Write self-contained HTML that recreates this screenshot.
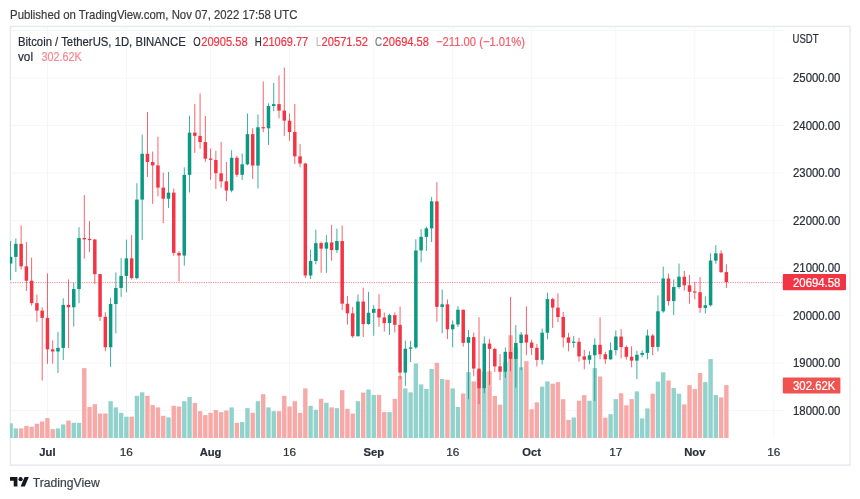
<!DOCTYPE html>
<html><head><meta charset="utf-8"><title>BTCUSDT</title>
<style>html,body{margin:0;padding:0;background:#fff}body{width:860px;height:499px;overflow:hidden}svg{display:block}text{font-family:"Liberation Sans",sans-serif}</style>
</head><body>
<svg width="860" height="499" viewBox="0 0 860 499">
<rect width="860" height="499" fill="#fff"/>
<defs><filter id="bl" x="0" y="0" width="860" height="499" filterUnits="userSpaceOnUse"><feGaussianBlur stdDeviation="0.4"/></filter></defs>
<g filter="url(#bl)">
<defs><clipPath id="pane"><rect x="9.9" y="26.5" width="773.1" height="412"/></clipPath></defs>
<g stroke="#f5f6f8" stroke-width="1" shape-rendering="auto">
<line x1="10.5" y1="30.60" x2="783" y2="30.60"/>
<line x1="10.5" y1="78.10" x2="783" y2="78.10"/>
<line x1="10.5" y1="125.60" x2="783" y2="125.60"/>
<line x1="10.5" y1="173.10" x2="783" y2="173.10"/>
<line x1="10.5" y1="220.60" x2="783" y2="220.60"/>
<line x1="10.5" y1="268.10" x2="783" y2="268.10"/>
<line x1="10.5" y1="315.60" x2="783" y2="315.60"/>
<line x1="10.5" y1="363.10" x2="783" y2="363.10"/>
<line x1="10.5" y1="410.60" x2="783" y2="410.60"/>
<line x1="47.44" y1="26.5" x2="47.44" y2="438"/>
<line x1="126.39" y1="26.5" x2="126.39" y2="438"/>
<line x1="210.59" y1="26.5" x2="210.59" y2="438"/>
<line x1="289.54" y1="26.5" x2="289.54" y2="438"/>
<line x1="373.75" y1="26.5" x2="373.75" y2="438"/>
<line x1="452.69" y1="26.5" x2="452.69" y2="438"/>
<line x1="531.64" y1="26.5" x2="531.64" y2="438"/>
<line x1="615.85" y1="26.5" x2="615.85" y2="438"/>
<line x1="694.79" y1="26.5" x2="694.79" y2="438"/>
<line x1="773.74" y1="26.5" x2="773.74" y2="438"/>
</g>
<rect x="10.4" y="26.4" width="839.6" height="438.8" fill="none" stroke="#e8eaf0" stroke-width="1.5"/>
<g clip-path="url(#pane)">
<rect x="8.40" y="423.30" width="4.40" height="14.70" fill="#92d2cc"/>
<rect x="13.66" y="428.40" width="4.40" height="9.60" fill="#92d2cc"/>
<rect x="18.93" y="428.40" width="4.40" height="9.60" fill="#f7a9a7"/>
<rect x="24.19" y="426.00" width="4.40" height="12.00" fill="#f7a9a7"/>
<rect x="29.45" y="426.70" width="4.40" height="11.30" fill="#f7a9a7"/>
<rect x="34.71" y="423.70" width="4.40" height="14.30" fill="#f7a9a7"/>
<rect x="39.98" y="421.40" width="4.40" height="16.60" fill="#f7a9a7"/>
<rect x="45.24" y="418.10" width="4.40" height="19.90" fill="#f7a9a7"/>
<rect x="50.50" y="429.10" width="4.40" height="8.90" fill="#f7a9a7"/>
<rect x="55.77" y="428.40" width="4.40" height="9.60" fill="#92d2cc"/>
<rect x="61.03" y="424.40" width="4.40" height="13.60" fill="#92d2cc"/>
<rect x="66.29" y="420.50" width="4.40" height="17.50" fill="#f7a9a7"/>
<rect x="71.56" y="422.80" width="4.40" height="15.20" fill="#92d2cc"/>
<rect x="76.82" y="422.80" width="4.40" height="15.20" fill="#92d2cc"/>
<rect x="82.08" y="368.10" width="4.40" height="69.90" fill="#f7a9a7"/>
<rect x="87.34" y="407.00" width="4.40" height="31.00" fill="#f7a9a7"/>
<rect x="92.61" y="404.20" width="4.40" height="33.80" fill="#f7a9a7"/>
<rect x="97.87" y="413.50" width="4.40" height="24.50" fill="#f7a9a7"/>
<rect x="103.13" y="413.50" width="4.40" height="24.50" fill="#f7a9a7"/>
<rect x="108.40" y="401.20" width="4.40" height="36.80" fill="#92d2cc"/>
<rect x="113.66" y="407.40" width="4.40" height="30.60" fill="#92d2cc"/>
<rect x="118.92" y="412.80" width="4.40" height="25.20" fill="#92d2cc"/>
<rect x="124.19" y="416.70" width="4.40" height="21.30" fill="#92d2cc"/>
<rect x="129.45" y="416.70" width="4.40" height="21.30" fill="#f7a9a7"/>
<rect x="134.71" y="395.80" width="4.40" height="42.20" fill="#92d2cc"/>
<rect x="139.97" y="392.30" width="4.40" height="45.70" fill="#92d2cc"/>
<rect x="145.24" y="395.80" width="4.40" height="42.20" fill="#f7a9a7"/>
<rect x="150.50" y="405.10" width="4.40" height="32.90" fill="#f7a9a7"/>
<rect x="155.76" y="407.40" width="4.40" height="30.60" fill="#f7a9a7"/>
<rect x="161.03" y="415.80" width="4.40" height="22.20" fill="#f7a9a7"/>
<rect x="166.29" y="417.40" width="4.40" height="20.60" fill="#92d2cc"/>
<rect x="171.55" y="405.80" width="4.40" height="32.20" fill="#f7a9a7"/>
<rect x="176.82" y="406.50" width="4.40" height="31.50" fill="#f7a9a7"/>
<rect x="182.08" y="401.20" width="4.40" height="36.80" fill="#92d2cc"/>
<rect x="187.34" y="397.00" width="4.40" height="41.00" fill="#92d2cc"/>
<rect x="192.60" y="403.00" width="4.40" height="35.00" fill="#f7a9a7"/>
<rect x="197.87" y="411.20" width="4.40" height="26.80" fill="#f7a9a7"/>
<rect x="203.13" y="415.10" width="4.40" height="22.90" fill="#f7a9a7"/>
<rect x="208.39" y="412.80" width="4.40" height="25.20" fill="#f7a9a7"/>
<rect x="213.66" y="410.00" width="4.40" height="28.00" fill="#f7a9a7"/>
<rect x="218.92" y="412.10" width="4.40" height="25.90" fill="#f7a9a7"/>
<rect x="224.18" y="410.50" width="4.40" height="27.50" fill="#f7a9a7"/>
<rect x="229.45" y="407.40" width="4.40" height="30.60" fill="#92d2cc"/>
<rect x="234.71" y="422.80" width="4.40" height="15.20" fill="#f7a9a7"/>
<rect x="239.97" y="422.10" width="4.40" height="15.90" fill="#92d2cc"/>
<rect x="245.24" y="408.10" width="4.40" height="29.90" fill="#92d2cc"/>
<rect x="250.50" y="412.80" width="4.40" height="25.20" fill="#f7a9a7"/>
<rect x="255.76" y="401.20" width="4.40" height="36.80" fill="#92d2cc"/>
<rect x="261.02" y="394.20" width="4.40" height="43.80" fill="#f7a9a7"/>
<rect x="266.29" y="407.40" width="4.40" height="30.60" fill="#92d2cc"/>
<rect x="271.55" y="411.20" width="4.40" height="26.80" fill="#92d2cc"/>
<rect x="276.81" y="411.20" width="4.40" height="26.80" fill="#f7a9a7"/>
<rect x="282.08" y="395.80" width="4.40" height="42.20" fill="#f7a9a7"/>
<rect x="287.34" y="406.50" width="4.40" height="31.50" fill="#f7a9a7"/>
<rect x="292.60" y="401.20" width="4.40" height="36.80" fill="#f7a9a7"/>
<rect x="297.87" y="412.80" width="4.40" height="25.20" fill="#f7a9a7"/>
<rect x="303.13" y="388.40" width="4.40" height="49.60" fill="#f7a9a7"/>
<rect x="308.39" y="405.80" width="4.40" height="32.20" fill="#92d2cc"/>
<rect x="313.65" y="409.80" width="4.40" height="28.20" fill="#92d2cc"/>
<rect x="318.92" y="398.80" width="4.40" height="39.20" fill="#f7a9a7"/>
<rect x="324.18" y="402.80" width="4.40" height="35.20" fill="#92d2cc"/>
<rect x="329.44" y="407.40" width="4.40" height="30.60" fill="#f7a9a7"/>
<rect x="334.71" y="408.10" width="4.40" height="29.90" fill="#92d2cc"/>
<rect x="339.97" y="390.20" width="4.40" height="47.80" fill="#f7a9a7"/>
<rect x="345.23" y="408.80" width="4.40" height="29.20" fill="#f7a9a7"/>
<rect x="350.50" y="413.50" width="4.40" height="24.50" fill="#f7a9a7"/>
<rect x="355.76" y="401.20" width="4.40" height="36.80" fill="#92d2cc"/>
<rect x="361.02" y="392.60" width="4.40" height="45.40" fill="#f7a9a7"/>
<rect x="366.28" y="389.50" width="4.40" height="48.50" fill="#92d2cc"/>
<rect x="371.55" y="394.90" width="4.40" height="43.10" fill="#92d2cc"/>
<rect x="376.81" y="394.90" width="4.40" height="43.10" fill="#f7a9a7"/>
<rect x="382.07" y="412.10" width="4.40" height="25.90" fill="#f7a9a7"/>
<rect x="387.34" y="412.10" width="4.40" height="25.90" fill="#92d2cc"/>
<rect x="392.60" y="398.80" width="4.40" height="39.20" fill="#f7a9a7"/>
<rect x="397.86" y="376.00" width="4.40" height="62.00" fill="#f7a9a7"/>
<rect x="403.12" y="388.40" width="4.40" height="49.60" fill="#92d2cc"/>
<rect x="408.39" y="392.30" width="4.40" height="45.70" fill="#92d2cc"/>
<rect x="413.65" y="363.50" width="4.40" height="74.50" fill="#92d2cc"/>
<rect x="418.91" y="384.40" width="4.40" height="53.60" fill="#92d2cc"/>
<rect x="424.18" y="389.00" width="4.40" height="49.00" fill="#92d2cc"/>
<rect x="429.44" y="369.00" width="4.40" height="69.00" fill="#92d2cc"/>
<rect x="434.70" y="362.80" width="4.40" height="75.20" fill="#f7a9a7"/>
<rect x="439.97" y="379.00" width="4.40" height="59.00" fill="#92d2cc"/>
<rect x="445.23" y="379.80" width="4.40" height="58.20" fill="#f7a9a7"/>
<rect x="450.49" y="388.40" width="4.40" height="49.60" fill="#92d2cc"/>
<rect x="455.76" y="407.00" width="4.40" height="31.00" fill="#92d2cc"/>
<rect x="461.02" y="393.50" width="4.40" height="44.50" fill="#f7a9a7"/>
<rect x="466.28" y="372.10" width="4.40" height="65.90" fill="#92d2cc"/>
<rect x="471.54" y="381.40" width="4.40" height="56.60" fill="#f7a9a7"/>
<rect x="476.81" y="370.50" width="4.40" height="67.50" fill="#f7a9a7"/>
<rect x="482.07" y="371.50" width="4.40" height="66.50" fill="#92d2cc"/>
<rect x="487.33" y="371.30" width="4.40" height="66.70" fill="#f7a9a7"/>
<rect x="492.60" y="396.00" width="4.40" height="42.00" fill="#f7a9a7"/>
<rect x="497.86" y="404.70" width="4.40" height="33.30" fill="#f7a9a7"/>
<rect x="503.12" y="362.30" width="4.40" height="75.70" fill="#92d2cc"/>
<rect x="508.39" y="335.20" width="4.40" height="102.80" fill="#f7a9a7"/>
<rect x="513.65" y="347.50" width="4.40" height="90.50" fill="#92d2cc"/>
<rect x="518.91" y="367.30" width="4.40" height="70.70" fill="#92d2cc"/>
<rect x="524.17" y="361.20" width="4.40" height="76.80" fill="#f7a9a7"/>
<rect x="529.44" y="409.30" width="4.40" height="28.70" fill="#f7a9a7"/>
<rect x="534.70" y="402.30" width="4.40" height="35.70" fill="#f7a9a7"/>
<rect x="539.96" y="386.70" width="4.40" height="51.30" fill="#92d2cc"/>
<rect x="545.23" y="381.40" width="4.40" height="56.60" fill="#92d2cc"/>
<rect x="550.49" y="383.70" width="4.40" height="54.30" fill="#f7a9a7"/>
<rect x="555.75" y="382.10" width="4.40" height="55.90" fill="#f7a9a7"/>
<rect x="561.01" y="399.20" width="4.40" height="38.80" fill="#f7a9a7"/>
<rect x="566.28" y="419.90" width="4.40" height="18.10" fill="#f7a9a7"/>
<rect x="571.54" y="417.50" width="4.40" height="20.50" fill="#92d2cc"/>
<rect x="576.80" y="400.70" width="4.40" height="37.30" fill="#f7a9a7"/>
<rect x="582.07" y="395.10" width="4.40" height="42.90" fill="#f7a9a7"/>
<rect x="587.33" y="400.70" width="4.40" height="37.30" fill="#92d2cc"/>
<rect x="592.59" y="368.10" width="4.40" height="69.90" fill="#92d2cc"/>
<rect x="597.86" y="376.50" width="4.40" height="61.50" fill="#f7a9a7"/>
<rect x="603.12" y="417.70" width="4.40" height="20.30" fill="#f7a9a7"/>
<rect x="608.38" y="414.20" width="4.40" height="23.80" fill="#92d2cc"/>
<rect x="613.64" y="399.10" width="4.40" height="38.90" fill="#92d2cc"/>
<rect x="618.91" y="393.30" width="4.40" height="44.70" fill="#f7a9a7"/>
<rect x="624.17" y="405.30" width="4.40" height="32.70" fill="#f7a9a7"/>
<rect x="629.43" y="399.10" width="4.40" height="38.90" fill="#f7a9a7"/>
<rect x="634.70" y="391.40" width="4.40" height="46.60" fill="#92d2cc"/>
<rect x="639.96" y="418.40" width="4.40" height="19.60" fill="#92d2cc"/>
<rect x="645.22" y="408.40" width="4.40" height="29.60" fill="#92d2cc"/>
<rect x="650.49" y="393.70" width="4.40" height="44.30" fill="#f7a9a7"/>
<rect x="655.75" y="381.60" width="4.40" height="56.40" fill="#92d2cc"/>
<rect x="661.01" y="372.30" width="4.40" height="65.70" fill="#92d2cc"/>
<rect x="666.27" y="380.50" width="4.40" height="57.50" fill="#f7a9a7"/>
<rect x="671.54" y="388.10" width="4.40" height="49.90" fill="#92d2cc"/>
<rect x="676.80" y="393.70" width="4.40" height="44.30" fill="#92d2cc"/>
<rect x="682.06" y="404.40" width="4.40" height="33.60" fill="#f7a9a7"/>
<rect x="687.33" y="385.10" width="4.40" height="52.90" fill="#f7a9a7"/>
<rect x="692.59" y="389.10" width="4.40" height="48.90" fill="#f7a9a7"/>
<rect x="697.85" y="373.00" width="4.40" height="65.00" fill="#f7a9a7"/>
<rect x="703.12" y="382.10" width="4.40" height="55.90" fill="#92d2cc"/>
<rect x="708.38" y="359.10" width="4.40" height="78.90" fill="#92d2cc"/>
<rect x="713.64" y="395.10" width="4.40" height="42.90" fill="#92d2cc"/>
<rect x="718.90" y="397.40" width="4.40" height="40.60" fill="#f7a9a7"/>
<rect x="724.17" y="385.10" width="4.40" height="52.90" fill="#f7a9a7"/>
</g>
<line x1="10.5" y1="282.61" x2="783" y2="282.61" stroke="#f23645" stroke-width="1" stroke-dasharray="1.15 1.15" opacity="0.62"/>
<g clip-path="url(#pane)">
<rect x="10.15" y="241.09" width="0.90" height="39.04" fill="#089981" opacity="0.85"/>
<rect x="8.85" y="256.87" width="3.50" height="6.70" fill="#089981"/>
<rect x="15.41" y="238.44" width="0.90" height="33.63" fill="#089981" opacity="0.85"/>
<rect x="14.11" y="243.85" width="3.50" height="13.02" fill="#089981"/>
<rect x="20.68" y="225.42" width="0.90" height="43.84" fill="#f23645" opacity="0.85"/>
<rect x="19.38" y="243.85" width="3.50" height="22.47" fill="#f23645"/>
<rect x="25.94" y="242.00" width="0.90" height="48.88" fill="#f23645" opacity="0.85"/>
<rect x="24.64" y="266.32" width="3.50" height="14.44" fill="#f23645"/>
<rect x="31.20" y="257.53" width="0.90" height="48.07" fill="#f23645" opacity="0.85"/>
<rect x="29.90" y="280.76" width="3.50" height="22.37" fill="#f23645"/>
<rect x="36.46" y="294.58" width="0.90" height="27.45" fill="#f23645" opacity="0.85"/>
<rect x="35.16" y="303.13" width="3.50" height="7.50" fill="#f23645"/>
<rect x="41.73" y="307.26" width="0.90" height="73.39" fill="#f23645" opacity="0.85"/>
<rect x="40.43" y="310.63" width="3.50" height="7.22" fill="#f23645"/>
<rect x="46.99" y="273.35" width="0.90" height="90.44" fill="#f23645" opacity="0.85"/>
<rect x="45.69" y="317.86" width="3.50" height="31.49" fill="#f23645"/>
<rect x="52.25" y="340.42" width="0.90" height="23.27" fill="#f23645" opacity="0.85"/>
<rect x="50.95" y="349.35" width="3.50" height="2.14" fill="#f23645"/>
<rect x="57.52" y="331.87" width="0.90" height="41.14" fill="#089981" opacity="0.85"/>
<rect x="56.22" y="347.92" width="3.50" height="3.56" fill="#089981"/>
<rect x="62.78" y="298.28" width="0.90" height="61.70" fill="#089981" opacity="0.85"/>
<rect x="61.48" y="304.89" width="3.50" height="43.04" fill="#089981"/>
<rect x="68.04" y="279.48" width="0.90" height="68.68" fill="#f23645" opacity="0.85"/>
<rect x="66.74" y="304.89" width="3.50" height="2.38" fill="#f23645"/>
<rect x="73.31" y="283.04" width="0.90" height="43.41" fill="#089981" opacity="0.85"/>
<rect x="72.01" y="289.07" width="3.50" height="18.19" fill="#089981"/>
<rect x="78.57" y="227.22" width="0.90" height="75.95" fill="#089981" opacity="0.85"/>
<rect x="77.27" y="237.96" width="3.50" height="51.11" fill="#089981"/>
<rect x="83.83" y="195.07" width="0.90" height="63.56" fill="#f23645" opacity="0.85"/>
<rect x="82.53" y="237.96" width="3.50" height="1.42" fill="#f23645"/>
<rect x="89.09" y="221.05" width="0.90" height="31.26" fill="#f23645" opacity="0.85"/>
<rect x="87.79" y="238.86" width="3.50" height="1.20" fill="#f23645"/>
<rect x="94.36" y="238.77" width="0.90" height="45.22" fill="#f23645" opacity="0.85"/>
<rect x="93.06" y="239.53" width="3.50" height="34.63" fill="#f23645"/>
<rect x="99.62" y="273.87" width="0.90" height="47.17" fill="#f23645" opacity="0.85"/>
<rect x="98.32" y="274.15" width="3.50" height="42.70" fill="#f23645"/>
<rect x="104.88" y="312.30" width="0.90" height="38.90" fill="#f23645" opacity="0.85"/>
<rect x="103.58" y="316.86" width="3.50" height="30.40" fill="#f23645"/>
<rect x="110.15" y="297.72" width="0.90" height="69.16" fill="#089981" opacity="0.85"/>
<rect x="108.85" y="303.99" width="3.50" height="43.27" fill="#089981"/>
<rect x="115.41" y="272.35" width="0.90" height="60.99" fill="#089981" opacity="0.85"/>
<rect x="114.11" y="287.93" width="3.50" height="16.06" fill="#089981"/>
<rect x="120.67" y="258.10" width="0.90" height="38.85" fill="#089981" opacity="0.85"/>
<rect x="119.37" y="275.91" width="3.50" height="12.02" fill="#089981"/>
<rect x="125.94" y="239.67" width="0.90" height="52.72" fill="#089981" opacity="0.85"/>
<rect x="124.64" y="258.34" width="3.50" height="17.58" fill="#089981"/>
<rect x="131.20" y="235.11" width="0.90" height="44.37" fill="#f23645" opacity="0.85"/>
<rect x="129.90" y="258.34" width="3.50" height="19.76" fill="#f23645"/>
<rect x="136.46" y="183.19" width="0.90" height="96.19" fill="#089981" opacity="0.85"/>
<rect x="135.16" y="199.58" width="3.50" height="78.52" fill="#089981"/>
<rect x="141.72" y="134.60" width="0.90" height="105.50" fill="#089981" opacity="0.85"/>
<rect x="140.42" y="153.79" width="3.50" height="45.79" fill="#089981"/>
<rect x="146.99" y="111.99" width="0.90" height="65.08" fill="#f23645" opacity="0.85"/>
<rect x="145.69" y="153.79" width="3.50" height="8.22" fill="#f23645"/>
<rect x="152.25" y="151.60" width="0.90" height="52.30" fill="#f23645" opacity="0.85"/>
<rect x="150.95" y="162.01" width="3.50" height="3.37" fill="#f23645"/>
<rect x="157.51" y="136.69" width="0.90" height="59.66" fill="#f23645" opacity="0.85"/>
<rect x="156.21" y="165.38" width="3.50" height="22.23" fill="#f23645"/>
<rect x="162.78" y="172.60" width="0.90" height="50.63" fill="#f23645" opacity="0.85"/>
<rect x="161.48" y="187.61" width="3.50" height="11.07" fill="#f23645"/>
<rect x="168.04" y="171.94" width="0.90" height="35.96" fill="#089981" opacity="0.85"/>
<rect x="166.74" y="192.60" width="3.50" height="6.08" fill="#089981"/>
<rect x="173.30" y="188.46" width="0.90" height="67.26" fill="#f23645" opacity="0.85"/>
<rect x="172.00" y="192.60" width="3.50" height="60.28" fill="#f23645"/>
<rect x="178.57" y="251.12" width="0.90" height="30.45" fill="#f23645" opacity="0.85"/>
<rect x="177.27" y="252.88" width="3.50" height="2.66" fill="#f23645"/>
<rect x="183.83" y="167.28" width="0.90" height="98.33" fill="#089981" opacity="0.85"/>
<rect x="182.53" y="174.88" width="3.50" height="80.65" fill="#089981"/>
<rect x="189.09" y="115.65" width="0.90" height="76.81" fill="#089981" opacity="0.85"/>
<rect x="187.79" y="132.60" width="3.50" height="42.28" fill="#089981"/>
<rect x="194.35" y="104.10" width="0.90" height="48.83" fill="#f23645" opacity="0.85"/>
<rect x="193.05" y="132.60" width="3.50" height="3.28" fill="#f23645"/>
<rect x="199.62" y="93.37" width="0.90" height="55.39" fill="#f23645" opacity="0.85"/>
<rect x="198.32" y="135.88" width="3.50" height="6.18" fill="#f23645"/>
<rect x="204.88" y="115.88" width="0.90" height="45.93" fill="#f23645" opacity="0.85"/>
<rect x="203.58" y="142.06" width="3.50" height="16.62" fill="#f23645"/>
<rect x="210.14" y="148.42" width="0.90" height="31.30" fill="#f23645" opacity="0.85"/>
<rect x="208.84" y="158.54" width="3.50" height="1.33" fill="#f23645"/>
<rect x="215.41" y="150.80" width="0.90" height="38.24" fill="#f23645" opacity="0.85"/>
<rect x="214.11" y="159.96" width="3.50" height="13.25" fill="#f23645"/>
<rect x="220.67" y="141.87" width="0.90" height="45.88" fill="#f23645" opacity="0.85"/>
<rect x="219.37" y="173.31" width="3.50" height="8.03" fill="#f23645"/>
<rect x="225.93" y="162.01" width="0.90" height="39.09" fill="#f23645" opacity="0.85"/>
<rect x="224.63" y="181.34" width="3.50" height="9.22" fill="#f23645"/>
<rect x="231.20" y="150.18" width="0.90" height="42.08" fill="#089981" opacity="0.85"/>
<rect x="229.90" y="157.78" width="3.50" height="32.78" fill="#089981"/>
<rect x="236.46" y="155.78" width="0.90" height="21.14" fill="#f23645" opacity="0.85"/>
<rect x="235.16" y="157.73" width="3.50" height="17.05" fill="#f23645"/>
<rect x="241.72" y="153.50" width="0.90" height="26.50" fill="#089981" opacity="0.85"/>
<rect x="240.42" y="164.33" width="3.50" height="10.45" fill="#089981"/>
<rect x="246.99" y="113.46" width="0.90" height="51.82" fill="#089981" opacity="0.85"/>
<rect x="245.69" y="134.12" width="3.50" height="30.21" fill="#089981"/>
<rect x="252.25" y="128.28" width="0.90" height="50.73" fill="#f23645" opacity="0.85"/>
<rect x="250.95" y="134.12" width="3.50" height="31.40" fill="#f23645"/>
<rect x="257.51" y="114.36" width="0.90" height="74.20" fill="#089981" opacity="0.85"/>
<rect x="256.21" y="127.28" width="3.50" height="38.28" fill="#089981"/>
<rect x="262.77" y="81.49" width="0.90" height="50.64" fill="#f23645" opacity="0.85"/>
<rect x="261.47" y="127.16" width="3.50" height="1.20" fill="#f23645"/>
<rect x="268.04" y="103.44" width="0.90" height="41.47" fill="#089981" opacity="0.85"/>
<rect x="266.74" y="105.96" width="3.50" height="22.33" fill="#089981"/>
<rect x="273.30" y="82.92" width="0.90" height="28.36" fill="#089981" opacity="0.85"/>
<rect x="272.00" y="104.15" width="3.50" height="1.85" fill="#089981"/>
<rect x="278.56" y="75.37" width="0.90" height="42.89" fill="#f23645" opacity="0.85"/>
<rect x="277.26" y="104.06" width="3.50" height="6.56" fill="#f23645"/>
<rect x="283.83" y="67.58" width="0.90" height="68.31" fill="#f23645" opacity="0.85"/>
<rect x="282.53" y="110.61" width="3.50" height="10.02" fill="#f23645"/>
<rect x="289.09" y="113.37" width="0.90" height="27.36" fill="#f23645" opacity="0.85"/>
<rect x="287.79" y="120.68" width="3.50" height="11.35" fill="#f23645"/>
<rect x="294.35" y="103.91" width="0.90" height="60.14" fill="#f23645" opacity="0.85"/>
<rect x="293.05" y="131.94" width="3.50" height="24.41" fill="#f23645"/>
<rect x="299.62" y="144.10" width="0.90" height="23.23" fill="#f23645" opacity="0.85"/>
<rect x="298.31" y="156.35" width="3.50" height="7.17" fill="#f23645"/>
<rect x="304.88" y="162.72" width="0.90" height="115.19" fill="#f23645" opacity="0.85"/>
<rect x="303.58" y="163.53" width="3.50" height="111.96" fill="#f23645"/>
<rect x="310.14" y="249.45" width="0.90" height="29.50" fill="#089981" opacity="0.85"/>
<rect x="308.84" y="260.95" width="3.50" height="14.54" fill="#089981"/>
<rect x="315.40" y="229.60" width="0.90" height="34.72" fill="#089981" opacity="0.85"/>
<rect x="314.10" y="243.14" width="3.50" height="17.81" fill="#089981"/>
<rect x="320.67" y="241.57" width="0.90" height="31.25" fill="#f23645" opacity="0.85"/>
<rect x="319.37" y="243.09" width="3.50" height="5.56" fill="#f23645"/>
<rect x="325.93" y="235.11" width="0.90" height="37.72" fill="#089981" opacity="0.85"/>
<rect x="324.63" y="242.47" width="3.50" height="6.13" fill="#089981"/>
<rect x="331.19" y="224.85" width="0.90" height="35.86" fill="#f23645" opacity="0.85"/>
<rect x="329.89" y="242.47" width="3.50" height="7.65" fill="#f23645"/>
<rect x="336.46" y="228.70" width="0.90" height="24.18" fill="#089981" opacity="0.85"/>
<rect x="335.16" y="241.05" width="3.50" height="9.07" fill="#089981"/>
<rect x="341.72" y="225.51" width="0.90" height="84.50" fill="#f23645" opacity="0.85"/>
<rect x="340.42" y="241.05" width="3.50" height="62.61" fill="#f23645"/>
<rect x="346.98" y="296.00" width="0.90" height="28.60" fill="#f23645" opacity="0.85"/>
<rect x="345.68" y="303.75" width="3.50" height="9.59" fill="#f23645"/>
<rect x="352.25" y="306.98" width="0.90" height="30.92" fill="#f23645" opacity="0.85"/>
<rect x="350.94" y="313.34" width="3.50" height="22.89" fill="#f23645"/>
<rect x="357.51" y="294.53" width="0.90" height="41.94" fill="#089981" opacity="0.85"/>
<rect x="356.21" y="301.56" width="3.50" height="34.67" fill="#089981"/>
<rect x="362.77" y="287.74" width="0.90" height="49.21" fill="#f23645" opacity="0.85"/>
<rect x="361.47" y="301.56" width="3.50" height="22.51" fill="#f23645"/>
<rect x="368.03" y="291.82" width="0.90" height="32.92" fill="#089981" opacity="0.85"/>
<rect x="366.73" y="312.73" width="3.50" height="11.26" fill="#089981"/>
<rect x="373.30" y="305.22" width="0.90" height="30.54" fill="#089981" opacity="0.85"/>
<rect x="372.00" y="308.88" width="3.50" height="3.94" fill="#089981"/>
<rect x="378.56" y="294.15" width="0.90" height="32.58" fill="#f23645" opacity="0.85"/>
<rect x="377.26" y="308.83" width="3.50" height="8.60" fill="#f23645"/>
<rect x="383.82" y="312.49" width="0.90" height="19.14" fill="#f23645" opacity="0.85"/>
<rect x="382.52" y="317.48" width="3.50" height="5.65" fill="#f23645"/>
<rect x="389.09" y="313.72" width="0.90" height="21.19" fill="#089981" opacity="0.85"/>
<rect x="387.79" y="315.10" width="3.50" height="7.98" fill="#089981"/>
<rect x="394.35" y="312.39" width="0.90" height="20.14" fill="#f23645" opacity="0.85"/>
<rect x="393.05" y="315.10" width="3.50" height="9.69" fill="#f23645"/>
<rect x="399.61" y="306.55" width="0.90" height="72.72" fill="#f23645" opacity="0.85"/>
<rect x="398.31" y="324.84" width="3.50" height="47.74" fill="#f23645"/>
<rect x="404.88" y="340.56" width="0.90" height="45.32" fill="#089981" opacity="0.85"/>
<rect x="403.57" y="348.73" width="3.50" height="23.85" fill="#089981"/>
<rect x="410.14" y="340.85" width="0.90" height="21.18" fill="#089981" opacity="0.85"/>
<rect x="408.84" y="347.40" width="3.50" height="1.33" fill="#089981"/>
<rect x="415.40" y="239.24" width="0.90" height="109.54" fill="#089981" opacity="0.85"/>
<rect x="414.10" y="250.50" width="3.50" height="96.90" fill="#089981"/>
<rect x="420.66" y="229.12" width="0.90" height="33.20" fill="#089981" opacity="0.85"/>
<rect x="419.36" y="236.82" width="3.50" height="13.63" fill="#089981"/>
<rect x="425.93" y="226.75" width="0.90" height="24.22" fill="#089981" opacity="0.85"/>
<rect x="424.63" y="228.37" width="3.50" height="8.50" fill="#089981"/>
<rect x="431.19" y="196.92" width="0.90" height="45.12" fill="#089981" opacity="0.85"/>
<rect x="429.89" y="201.34" width="3.50" height="27.03" fill="#089981"/>
<rect x="436.45" y="182.15" width="0.90" height="139.60" fill="#f23645" opacity="0.85"/>
<rect x="435.15" y="201.34" width="3.50" height="105.55" fill="#f23645"/>
<rect x="441.72" y="289.40" width="0.90" height="43.89" fill="#089981" opacity="0.85"/>
<rect x="440.42" y="304.37" width="3.50" height="2.52" fill="#089981"/>
<rect x="446.98" y="299.42" width="0.90" height="39.57" fill="#f23645" opacity="0.85"/>
<rect x="445.68" y="304.32" width="3.50" height="24.99" fill="#f23645"/>
<rect x="452.24" y="320.32" width="0.90" height="27.07" fill="#089981" opacity="0.85"/>
<rect x="450.94" y="324.46" width="3.50" height="4.85" fill="#089981"/>
<rect x="457.51" y="306.12" width="0.90" height="20.95" fill="#089981" opacity="0.85"/>
<rect x="456.21" y="309.73" width="3.50" height="14.73" fill="#089981"/>
<rect x="462.77" y="309.54" width="0.90" height="37.14" fill="#f23645" opacity="0.85"/>
<rect x="461.47" y="309.78" width="3.50" height="33.06" fill="#f23645"/>
<rect x="468.03" y="330.01" width="0.90" height="69.07" fill="#089981" opacity="0.85"/>
<rect x="466.73" y="337.09" width="3.50" height="5.70" fill="#089981"/>
<rect x="473.29" y="332.49" width="0.90" height="43.84" fill="#f23645" opacity="0.85"/>
<rect x="471.99" y="337.09" width="3.50" height="31.45" fill="#f23645"/>
<rect x="478.56" y="317.19" width="0.90" height="86.97" fill="#f23645" opacity="0.85"/>
<rect x="477.26" y="368.59" width="3.50" height="19.62" fill="#f23645"/>
<rect x="483.82" y="336.48" width="0.90" height="56.72" fill="#089981" opacity="0.85"/>
<rect x="482.52" y="343.55" width="3.50" height="44.65" fill="#089981"/>
<rect x="489.08" y="338.85" width="0.90" height="46.03" fill="#f23645" opacity="0.85"/>
<rect x="487.78" y="343.55" width="3.50" height="5.32" fill="#f23645"/>
<rect x="494.35" y="347.59" width="0.90" height="24.27" fill="#f23645" opacity="0.85"/>
<rect x="493.05" y="348.92" width="3.50" height="17.48" fill="#f23645"/>
<rect x="499.61" y="354.05" width="0.90" height="26.17" fill="#f23645" opacity="0.85"/>
<rect x="498.31" y="366.35" width="3.50" height="5.42" fill="#f23645"/>
<rect x="504.87" y="347.50" width="0.90" height="30.30" fill="#089981" opacity="0.85"/>
<rect x="503.57" y="351.82" width="3.50" height="19.86" fill="#089981"/>
<rect x="510.14" y="296.81" width="0.90" height="74.53" fill="#f23645" opacity="0.85"/>
<rect x="508.84" y="351.87" width="3.50" height="6.98" fill="#f23645"/>
<rect x="515.40" y="325.07" width="0.90" height="62.65" fill="#089981" opacity="0.85"/>
<rect x="514.10" y="343.03" width="3.50" height="15.87" fill="#089981"/>
<rect x="520.66" y="331.96" width="0.90" height="38.10" fill="#089981" opacity="0.85"/>
<rect x="519.36" y="334.53" width="3.50" height="8.50" fill="#089981"/>
<rect x="525.92" y="306.31" width="0.90" height="48.92" fill="#f23645" opacity="0.85"/>
<rect x="524.62" y="334.58" width="3.50" height="7.98" fill="#f23645"/>
<rect x="531.19" y="339.61" width="0.90" height="15.44" fill="#f23645" opacity="0.85"/>
<rect x="529.89" y="342.55" width="3.50" height="5.32" fill="#f23645"/>
<rect x="536.45" y="343.84" width="0.90" height="22.56" fill="#f23645" opacity="0.85"/>
<rect x="535.15" y="347.83" width="3.50" height="12.11" fill="#f23645"/>
<rect x="541.71" y="328.54" width="0.90" height="36.00" fill="#089981" opacity="0.85"/>
<rect x="540.41" y="332.72" width="3.50" height="27.17" fill="#089981"/>
<rect x="546.98" y="292.54" width="0.90" height="46.79" fill="#089981" opacity="0.85"/>
<rect x="545.68" y="299.09" width="3.50" height="33.63" fill="#089981"/>
<rect x="552.24" y="297.76" width="0.90" height="30.16" fill="#f23645" opacity="0.85"/>
<rect x="550.94" y="299.09" width="3.50" height="8.50" fill="#f23645"/>
<rect x="557.50" y="293.44" width="0.90" height="28.64" fill="#f23645" opacity="0.85"/>
<rect x="556.20" y="307.60" width="3.50" height="9.40" fill="#f23645"/>
<rect x="562.76" y="311.87" width="0.90" height="35.53" fill="#f23645" opacity="0.85"/>
<rect x="561.47" y="317.00" width="3.50" height="20.42" fill="#f23645"/>
<rect x="568.03" y="332.82" width="0.90" height="18.52" fill="#f23645" opacity="0.85"/>
<rect x="566.73" y="337.42" width="3.50" height="5.37" fill="#f23645"/>
<rect x="573.29" y="336.10" width="0.90" height="11.50" fill="#089981" opacity="0.85"/>
<rect x="571.99" y="341.69" width="3.50" height="1.20" fill="#089981"/>
<rect x="578.55" y="337.66" width="0.90" height="23.99" fill="#f23645" opacity="0.85"/>
<rect x="577.25" y="341.75" width="3.50" height="14.63" fill="#f23645"/>
<rect x="583.82" y="349.87" width="0.90" height="19.38" fill="#f23645" opacity="0.85"/>
<rect x="582.52" y="356.38" width="3.50" height="3.37" fill="#f23645"/>
<rect x="589.08" y="351.29" width="0.90" height="12.97" fill="#089981" opacity="0.85"/>
<rect x="587.78" y="355.24" width="3.50" height="4.51" fill="#089981"/>
<rect x="594.34" y="338.23" width="0.90" height="62.84" fill="#089981" opacity="0.85"/>
<rect x="593.04" y="344.79" width="3.50" height="10.45" fill="#089981"/>
<rect x="599.61" y="317.43" width="0.90" height="41.85" fill="#f23645" opacity="0.85"/>
<rect x="598.31" y="344.79" width="3.50" height="9.45" fill="#f23645"/>
<rect x="604.87" y="351.82" width="0.90" height="11.97" fill="#f23645" opacity="0.85"/>
<rect x="603.57" y="354.24" width="3.50" height="5.08" fill="#f23645"/>
<rect x="610.13" y="342.41" width="0.90" height="17.19" fill="#089981" opacity="0.85"/>
<rect x="608.83" y="350.15" width="3.50" height="9.22" fill="#089981"/>
<rect x="615.39" y="330.49" width="0.90" height="24.89" fill="#089981" opacity="0.85"/>
<rect x="614.10" y="336.52" width="3.50" height="13.63" fill="#089981"/>
<rect x="620.66" y="329.06" width="0.90" height="29.21" fill="#f23645" opacity="0.85"/>
<rect x="619.36" y="336.57" width="3.50" height="10.50" fill="#f23645"/>
<rect x="625.92" y="345.50" width="0.90" height="14.01" fill="#f23645" opacity="0.85"/>
<rect x="624.62" y="347.07" width="3.50" height="9.69" fill="#f23645"/>
<rect x="631.18" y="346.12" width="0.90" height="21.23" fill="#f23645" opacity="0.85"/>
<rect x="629.88" y="356.76" width="3.50" height="3.89" fill="#f23645"/>
<rect x="636.45" y="350.73" width="0.90" height="28.50" fill="#089981" opacity="0.85"/>
<rect x="635.15" y="354.81" width="3.50" height="5.84" fill="#089981"/>
<rect x="641.71" y="350.39" width="0.90" height="6.89" fill="#089981" opacity="0.85"/>
<rect x="640.41" y="352.91" width="3.50" height="1.90" fill="#089981"/>
<rect x="646.97" y="329.59" width="0.90" height="29.69" fill="#089981" opacity="0.85"/>
<rect x="645.67" y="335.52" width="3.50" height="17.38" fill="#089981"/>
<rect x="652.24" y="334.05" width="0.90" height="21.09" fill="#f23645" opacity="0.85"/>
<rect x="650.94" y="335.52" width="3.50" height="11.45" fill="#f23645"/>
<rect x="657.50" y="295.39" width="0.90" height="55.95" fill="#089981" opacity="0.85"/>
<rect x="656.20" y="311.30" width="3.50" height="35.62" fill="#089981"/>
<rect x="662.76" y="266.65" width="0.90" height="46.08" fill="#089981" opacity="0.85"/>
<rect x="661.46" y="278.48" width="3.50" height="32.87" fill="#089981"/>
<rect x="668.02" y="273.68" width="0.90" height="31.92" fill="#f23645" opacity="0.85"/>
<rect x="666.73" y="278.48" width="3.50" height="22.61" fill="#f23645"/>
<rect x="673.29" y="279.48" width="0.90" height="35.62" fill="#089981" opacity="0.85"/>
<rect x="671.99" y="287.03" width="3.50" height="14.06" fill="#089981"/>
<rect x="678.55" y="263.56" width="0.90" height="25.22" fill="#089981" opacity="0.85"/>
<rect x="677.25" y="276.67" width="3.50" height="10.36" fill="#089981"/>
<rect x="683.81" y="270.88" width="0.90" height="19.76" fill="#f23645" opacity="0.85"/>
<rect x="682.51" y="276.67" width="3.50" height="8.64" fill="#f23645"/>
<rect x="689.08" y="274.96" width="0.90" height="28.88" fill="#f23645" opacity="0.85"/>
<rect x="687.78" y="285.32" width="3.50" height="6.51" fill="#f23645"/>
<rect x="694.34" y="281.85" width="0.90" height="17.57" fill="#f23645" opacity="0.85"/>
<rect x="693.04" y="291.39" width="3.50" height="1.20" fill="#f23645"/>
<rect x="699.60" y="277.10" width="0.90" height="35.72" fill="#f23645" opacity="0.85"/>
<rect x="698.30" y="292.20" width="3.50" height="15.72" fill="#f23645"/>
<rect x="704.87" y="296.43" width="0.90" height="17.19" fill="#089981" opacity="0.85"/>
<rect x="703.57" y="305.27" width="3.50" height="2.66" fill="#089981"/>
<rect x="710.13" y="253.25" width="0.90" height="53.29" fill="#089981" opacity="0.85"/>
<rect x="708.83" y="260.57" width="3.50" height="44.70" fill="#089981"/>
<rect x="715.39" y="245.13" width="0.90" height="18.67" fill="#089981" opacity="0.85"/>
<rect x="714.09" y="253.35" width="3.50" height="7.22" fill="#089981"/>
<rect x="720.65" y="250.26" width="0.90" height="22.75" fill="#f23645" opacity="0.85"/>
<rect x="719.36" y="253.40" width="3.50" height="18.71" fill="#f23645"/>
<rect x="725.92" y="264.29" width="0.90" height="23.67" fill="#f23645" opacity="0.85"/>
<rect x="724.62" y="272.08" width="3.50" height="10.02" fill="#f23645"/>
</g>
<text x="10.10" y="19.30" font-size="12.8" fill="#3c3c3c" font-weight="normal" textLength="287.30" lengthAdjust="spacingAndGlyphs" stroke="#3c3c3c" stroke-width="0.22">Published on TradingView.com, Nov 07, 2022 17:58 UTC</text>
<text x="18.00" y="45.70" font-size="12.5" fill="#2a2e39" font-weight="normal" textLength="167.70" lengthAdjust="spacingAndGlyphs" stroke="#2a2e39" stroke-width="0.22">Bitcoin / TetherUS, 1D, BINANCE</text>
<text x="193.20" y="45.70" font-size="12.5" fill="#2a2e39" font-weight="normal" textLength="7.40" lengthAdjust="spacingAndGlyphs" stroke="#2a2e39" stroke-width="0.22">O</text>
<text x="201.20" y="45.70" font-size="12.5" fill="#f23645" font-weight="normal" textLength="46.40" lengthAdjust="spacingAndGlyphs" stroke="#f23645" stroke-width="0.22">20905.58</text>
<text x="254.80" y="45.70" font-size="12.5" fill="#2a2e39" font-weight="normal" textLength="7.00" lengthAdjust="spacingAndGlyphs" stroke="#2a2e39" stroke-width="0.22">H</text>
<text x="262.40" y="45.70" font-size="12.5" fill="#f23645" font-weight="normal" textLength="45.80" lengthAdjust="spacingAndGlyphs" stroke="#f23645" stroke-width="0.22">21069.77</text>
<text x="316.00" y="45.70" font-size="12.5" fill="#2a2e39" font-weight="normal" textLength="5.00" lengthAdjust="spacingAndGlyphs" opacity="0.35" stroke="#2a2e39" stroke-width="0.22">L</text>
<text x="321.60" y="45.70" font-size="12.5" fill="#f23645" font-weight="normal" textLength="46.40" lengthAdjust="spacingAndGlyphs" stroke="#f23645" stroke-width="0.22">20571.52</text>
<text x="375.00" y="45.70" font-size="12.5" fill="#2a2e39" font-weight="normal" textLength="7.00" lengthAdjust="spacingAndGlyphs" opacity="0.65" stroke="#2a2e39" stroke-width="0.22">C</text>
<text x="382.60" y="45.70" font-size="12.5" fill="#f23645" font-weight="normal" textLength="46.40" lengthAdjust="spacingAndGlyphs" stroke="#f23645" stroke-width="0.22">20694.58</text>
<text x="436.00" y="45.70" font-size="12.5" fill="#f23645" font-weight="normal" textLength="89.00" lengthAdjust="spacingAndGlyphs" opacity="0.8" stroke="#f23645" stroke-width="0.22">&#8722;211.00 (&#8722;1.01%)</text>
<text x="18.00" y="61.20" font-size="12.5" fill="#2a2e39" font-weight="normal" textLength="15.00" lengthAdjust="spacingAndGlyphs" stroke="#2a2e39" stroke-width="0.22">vol</text>
<text x="41.50" y="61.20" font-size="12.5" fill="#f23645" font-weight="normal" textLength="40.30" lengthAdjust="spacingAndGlyphs" opacity="0.6" stroke="#f23645" stroke-width="0.22">302.62K</text>
<text x="792.60" y="43.00" font-size="12" fill="#2a2e39" font-weight="normal" textLength="26.00" lengthAdjust="spacingAndGlyphs" stroke="#2a2e39" stroke-width="0.22">USDT</text>
<text x="793.00" y="82.40" font-size="11.9" fill="#2a2e39" font-weight="normal" textLength="47.40" lengthAdjust="spacingAndGlyphs" stroke="#2a2e39" stroke-width="0.22">25000.00</text>
<text x="793.00" y="129.90" font-size="11.9" fill="#2a2e39" font-weight="normal" textLength="47.40" lengthAdjust="spacingAndGlyphs" stroke="#2a2e39" stroke-width="0.22">24000.00</text>
<text x="793.00" y="177.40" font-size="11.9" fill="#2a2e39" font-weight="normal" textLength="47.40" lengthAdjust="spacingAndGlyphs" stroke="#2a2e39" stroke-width="0.22">23000.00</text>
<text x="793.00" y="224.90" font-size="11.9" fill="#2a2e39" font-weight="normal" textLength="47.40" lengthAdjust="spacingAndGlyphs" stroke="#2a2e39" stroke-width="0.22">22000.00</text>
<text x="793.00" y="272.40" font-size="11.9" fill="#2a2e39" font-weight="normal" textLength="47.40" lengthAdjust="spacingAndGlyphs" stroke="#2a2e39" stroke-width="0.22">21000.00</text>
<text x="793.00" y="319.90" font-size="11.9" fill="#2a2e39" font-weight="normal" textLength="47.40" lengthAdjust="spacingAndGlyphs" stroke="#2a2e39" stroke-width="0.22">20000.00</text>
<text x="793.00" y="367.40" font-size="11.9" fill="#2a2e39" font-weight="normal" textLength="47.40" lengthAdjust="spacingAndGlyphs" stroke="#2a2e39" stroke-width="0.22">19000.00</text>
<text x="793.00" y="414.90" font-size="11.9" fill="#2a2e39" font-weight="normal" textLength="47.40" lengthAdjust="spacingAndGlyphs" stroke="#2a2e39" stroke-width="0.22">18000.00</text>
<rect x="782.8" y="274.0" width="63.2" height="16.2" rx="1" fill="#f23645"/>
<text x="793.00" y="286.81" font-size="11.9" fill="#fff" font-weight="normal" textLength="47.40" lengthAdjust="spacingAndGlyphs" stroke="#fff" stroke-width="0.22">20694.58</text>
<rect x="782.8" y="377.4" width="57.6" height="16.1" rx="1" fill="#ef5350"/>
<text x="793.00" y="389.75" font-size="11.9" fill="#fff" font-weight="normal" textLength="42.40" lengthAdjust="spacingAndGlyphs" stroke="#fff" stroke-width="0.22">302.62K</text>
<text x="47.44" y="455.80" font-size="11.2" fill="#2a2e39" font-weight="bold" text-anchor="middle" stroke="#2a2e39" stroke-width="0.22">Jul</text>
<text x="126.39" y="455.80" font-size="11.8" fill="#2a2e39" font-weight="normal" text-anchor="middle" stroke="#2a2e39" stroke-width="0.22">16</text>
<text x="210.59" y="455.80" font-size="11.2" fill="#2a2e39" font-weight="bold" text-anchor="middle" stroke="#2a2e39" stroke-width="0.22">Aug</text>
<text x="289.54" y="455.80" font-size="11.8" fill="#2a2e39" font-weight="normal" text-anchor="middle" stroke="#2a2e39" stroke-width="0.22">16</text>
<text x="373.75" y="455.80" font-size="11.2" fill="#2a2e39" font-weight="bold" text-anchor="middle" stroke="#2a2e39" stroke-width="0.22">Sep</text>
<text x="452.69" y="455.80" font-size="11.8" fill="#2a2e39" font-weight="normal" text-anchor="middle" stroke="#2a2e39" stroke-width="0.22">16</text>
<text x="531.64" y="455.80" font-size="11.2" fill="#2a2e39" font-weight="bold" text-anchor="middle" stroke="#2a2e39" stroke-width="0.22">Oct</text>
<text x="615.85" y="455.80" font-size="11.8" fill="#2a2e39" font-weight="normal" text-anchor="middle" stroke="#2a2e39" stroke-width="0.22">17</text>
<text x="694.79" y="455.80" font-size="11.2" fill="#2a2e39" font-weight="bold" text-anchor="middle" stroke="#2a2e39" stroke-width="0.22">Nov</text>
<text x="773.74" y="455.80" font-size="11.8" fill="#2a2e39" font-weight="normal" text-anchor="middle" stroke="#2a2e39" stroke-width="0.22">16</text>
<g transform="translate(10,474.9) scale(0.53)" fill="#131722"><path d="M14 22H7V11H0V4h14v18zM28 22h-8l7.5-18h8L28 22z"/><circle cx="20" cy="8" r="4"/></g>
<text x="32.80" y="486.50" font-size="12" fill="#40444f" font-weight="normal" textLength="66.90" lengthAdjust="spacingAndGlyphs" stroke="#40444f" stroke-width="0.22">TradingView</text>
</g>
</svg>
</body></html>
